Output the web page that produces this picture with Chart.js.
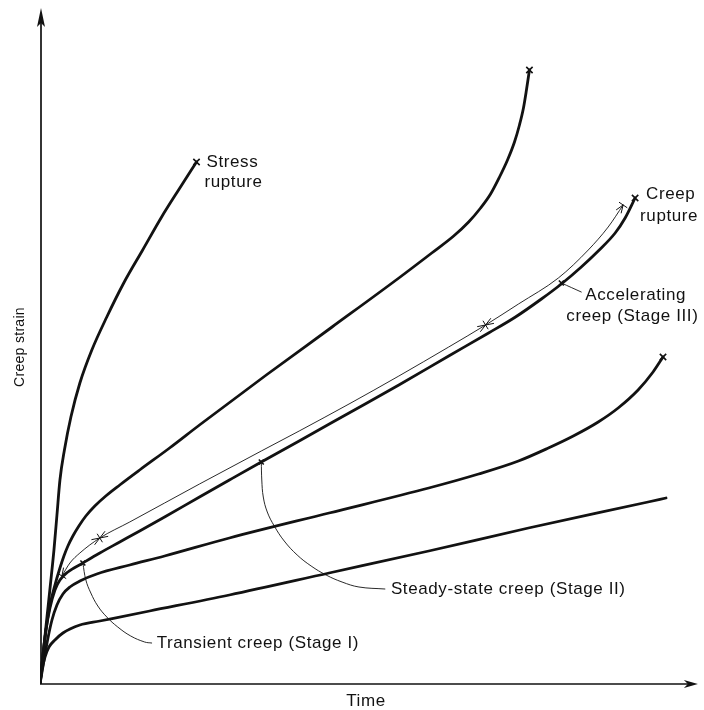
<!DOCTYPE html>
<html>
<head>
<meta charset="utf-8">
<script src="https://cdn.jsdelivr.net/npm/chart.js@4/dist/chart.umd.min.js"></script>
<style>
  html, body { margin: 0; padding: 0; background: #ffffff; }
  #wrap { width: 704px; height: 710px; position: relative; }
</style>
</head>
<body>
<div id="wrap"><canvas id="c" width="704" height="710"></canvas></div>
<script>
// ---------- DATA (time, creep strain) in arbitrary units ----------
// Curve A – highest stress, stress rupture
const curveA_t = [0, 3.5, 7, 10.5, 14, 17, 20, 24.5, 31, 40, 52, 67, 84, 103, 122, 139, 157];
const curveA_s = [0, 34, 67, 100, 134, 169, 204, 234, 267, 301, 334, 367, 401, 434, 467, 494, 522];
// Curve B
const curveB_t = [0, 3, 6, 10, 15, 20, 24, 28, 33, 39, 46, 55, 66, 80, 100, 130, 160, 227, 293, 360, 393, 415, 430, 442, 452, 461, 469, 476, 481, 485, 488, 491];
const curveB_s = [0, 29, 54, 79, 99, 116, 128, 138, 148, 158, 168, 178, 188, 199, 214, 236, 259, 309, 357, 406, 431, 448, 462, 476, 490, 507, 524, 542, 559, 576, 594, 614];
// Curve C – the typical curve carrying the stage annotations
const curveC_t = [0, 3, 6, 10, 15, 20, 28, 43, 60, 80, 100, 125, 160, 190, 222, 260, 310, 360, 410, 450, 477, 503, 523, 543, 560, 577, 587, 597];
const curveC_s = [0, 29, 54, 76, 94, 104, 112, 121, 131, 142, 153, 167, 187, 204, 222, 243, 271, 299, 328, 351, 367, 385, 400, 417, 433, 451, 466, 486];
// Curve D
const curveD_t = [0, 4, 8, 12, 17, 23, 30, 40, 57, 90, 125, 190, 290, 390, 440, 480, 510, 535, 560, 580, 600, 615, 625];
const curveD_s = [0, 24, 46, 64, 79, 90, 97, 103, 110, 119, 128, 146, 171, 196, 210, 223, 236, 248, 262, 276, 294, 312, 327];
// Curve E – lowest stress
const curveE_t = [0, 2, 5, 9, 15, 23, 40, 60, 110, 190, 290, 390, 490, 610, 628];
const curveE_s = [0, 14, 27, 37, 44, 51, 59, 63, 73, 89, 111, 133, 156, 182, 186];

// Thin dimension line along curve C (stage I / II / III)
const stageLine_t = [22, 30, 40, 60, 90, 125, 160, 222, 260, 310, 360, 410, 447, 480, 520, 550, 570, 585];
const stageLine_s = [108, 121, 131, 146, 162, 181, 200, 233, 253, 280, 308, 337, 359, 380, 406, 434, 457, 479];
// Stage boundaries on the dimension line: start, I/II, II/III, end
const stageBound_t = [22, 60, 447, 585];
const stageBound_s = [108, 146, 359, 479];

// Leader lines from the annotations to curve C
const leaderI_t = [43, 46, 51, 58, 67, 78, 91, 105, 112];
const leaderI_s = [121, 104, 91, 78, 67, 57, 48, 42, 41];
const leaderII_t = [222, 222.5, 224, 228, 235, 245, 258, 272, 287, 303, 320, 346];
const leaderII_s = [222, 204, 187, 172, 158, 143, 129, 118, 109, 102, 97, 95];
const leaderIII_t = [523, 543];
const leaderIII_s = [401, 392];

// Rupture points (end of curves A, B, C, D) and stage points marked on curve C
const rupture_t = [157, 491, 597, 625];
const rupture_s = [522, 614, 486, 327];
const stageMark_t = [43, 222, 523];
const stageMark_s = [121, 222, 401];

// Text labels
const labelTexts = ['Stress', 'rupture', 'Creep', 'rupture', 'Accelerating', 'creep (Stage III)', 'Steady-state creep (Stage II)', 'Transient creep (Stage I)'];
const labelAt_t = [167, 165, 608, 602, 547, 528, 352, 117];
const labelAt_s = [522, 502, 490, 468, 389, 368, 95, 41];
const xTitle = 'Time';
const yTitle = 'Creep strain';

// ---------- build ----------
const zip = (a, b) => a.map((v, i) => ({ x: v, y: b[i] }));
const INK = '#121212';
const FONT = '17px "Liberation Sans", Arial, Helvetica, sans-serif';
const FONT_Y = '14px "Liberation Sans", Arial, Helvetica, sans-serif';

function curve(t, s, w) {
  return { data: zip(t, s), showLine: true, borderColor: INK, borderWidth: w, pointRadius: 0,
           cubicInterpolationMode: 'monotone', fill: false };
}
function leader(t, s) {
  return { data: zip(t, s), showLine: true, borderColor: INK, borderWidth: 0.9, pointRadius: 0,
           tension: 0.4, fill: false };
}

const datasets = [
  curve(curveA_t, curveA_s, 2.8),
  curve(curveB_t, curveB_s, 2.8),
  curve(curveC_t, curveC_s, 2.8),
  curve(curveD_t, curveD_s, 2.8),
  curve(curveE_t, curveE_s, 2.8),
  curve(stageLine_t, stageLine_s, 0.9),
  leader(leaderI_t, leaderI_s),
  leader(leaderII_t, leaderII_s),
  leader(leaderIII_t, leaderIII_s),
  { data: zip(rupture_t, rupture_s), showLine: false, pointStyle: 'crossRot', pointRadius: 4.5,
    borderColor: INK, borderWidth: 1.6, backgroundColor: INK },
  { data: zip(stageMark_t, stageMark_s), showLine: false, pointStyle: 'crossRot', pointRadius: 3.5,
    borderColor: INK, borderWidth: 1.6, backgroundColor: INK }
];

const overlay = {
  id: 'overlay',
  afterDatasetsDraw(chart) {
    const { ctx, chartArea: ca, scales: { x, y } } = chart;
    const P = (t, s) => [x.getPixelForValue(t), y.getPixelForValue(s)];
    ctx.save();
    ctx.strokeStyle = INK; ctx.fillStyle = INK;

    // axes with arrowheads
    const [ox, oy] = P(0, 0);
    ctx.lineWidth = 1.7;
    ctx.beginPath();
    ctx.moveTo(ox + 1, oy); ctx.lineTo(ox + 1, ca.top + 10);
    ctx.moveTo(ox, oy); ctx.lineTo(ca.right - 8, oy);
    ctx.stroke();
    ctx.beginPath();
    ctx.moveTo(ox + 1, ca.top); ctx.lineTo(ox + 5, ca.top + 19); ctx.lineTo(ox + 1, ca.top + 15); ctx.lineTo(ox - 3, ca.top + 19);
    ctx.closePath(); ctx.fill();
    ctx.beginPath();
    ctx.moveTo(ca.right, oy); ctx.lineTo(ca.right - 14, oy - 4); ctx.lineTo(ca.right - 10, oy); ctx.lineTo(ca.right - 14, oy + 4);
    ctx.closePath(); ctx.fill();

    // arrowheads and ticks on the stage dimension line
    const pts = stageLine_t.map((t, i) => P(t, stageLine_s[i]));
    function dirAt(px, py) {
      let best = 0, bd = 1e9;
      pts.forEach((p, i) => { const d = Math.hypot(p[0] - px, p[1] - py); if (d < bd) { bd = d; best = i; } });
      const a = pts[Math.max(0, best - 1)], b = pts[Math.min(pts.length - 1, best + 1)];
      const L = Math.hypot(b[0] - a[0], b[1] - a[1]);
      return [(b[0] - a[0]) / L, (b[1] - a[1]) / L];
    }
    ctx.lineWidth = 1;
    stageBound_t.forEach((t, i) => {
      const [px, py] = P(t, stageBound_s[i]);
      const [dx, dy] = dirAt(px, py);
      const nx = -dy, ny = dx;
      ctx.beginPath();
      ctx.moveTo(px - nx * 5, py - ny * 5); ctx.lineTo(px + nx * 5, py + ny * 5);
      ctx.stroke();
      const sides = i === 0 ? [1] : (i === stageBound_t.length - 1 ? [-1] : [-1, 1]);
      sides.forEach(sg => {
        const bx = px + sg * dx * 8, by = py + sg * dy * 8;
        ctx.beginPath();
        ctx.moveTo(bx + nx * 3, by + ny * 3); ctx.lineTo(px, py); ctx.lineTo(bx - nx * 3, by - ny * 3);
        ctx.stroke();
      });
    });

    // text
    ctx.font = FONT;
    if ('letterSpacing' in ctx) ctx.letterSpacing = '0.6px';
    ctx.textBaseline = 'middle'; ctx.textAlign = 'left';
    labelTexts.forEach((txt, i) => {
      const [px, py] = P(labelAt_t[i], labelAt_s[i]);
      ctx.fillText(txt, px, py);
    });
    ctx.textAlign = 'center';
    ctx.fillText(xTitle, x.getPixelForValue(327), ca.bottom + 17);
    ctx.font = FONT_Y;
    if ('letterSpacing' in ctx) ctx.letterSpacing = '0.3px';
    ctx.translate(20, y.getPixelForValue(337));
    ctx.rotate(-Math.PI / 2);
    ctx.fillText(yTitle, 0, 0);
    ctx.restore();
  }
};

new Chart(document.getElementById('c'), {
  type: 'scatter',
  data: { datasets },
  options: {
    responsive: false,
    animation: false,
    events: [],
    layout: { padding: { left: 40, right: 4, top: 8, bottom: 26 } },
    plugins: { legend: { display: false }, tooltip: { enabled: false } },
    scales: {
      x: { type: 'linear', min: 0, max: 660, display: false },
      y: { type: 'linear', min: 0, max: 676, display: false }
    },
    elements: { line: { borderCapStyle: 'round', borderJoinStyle: 'round' } }
  },
  plugins: [overlay]
});
</script>
</body>
</html>
